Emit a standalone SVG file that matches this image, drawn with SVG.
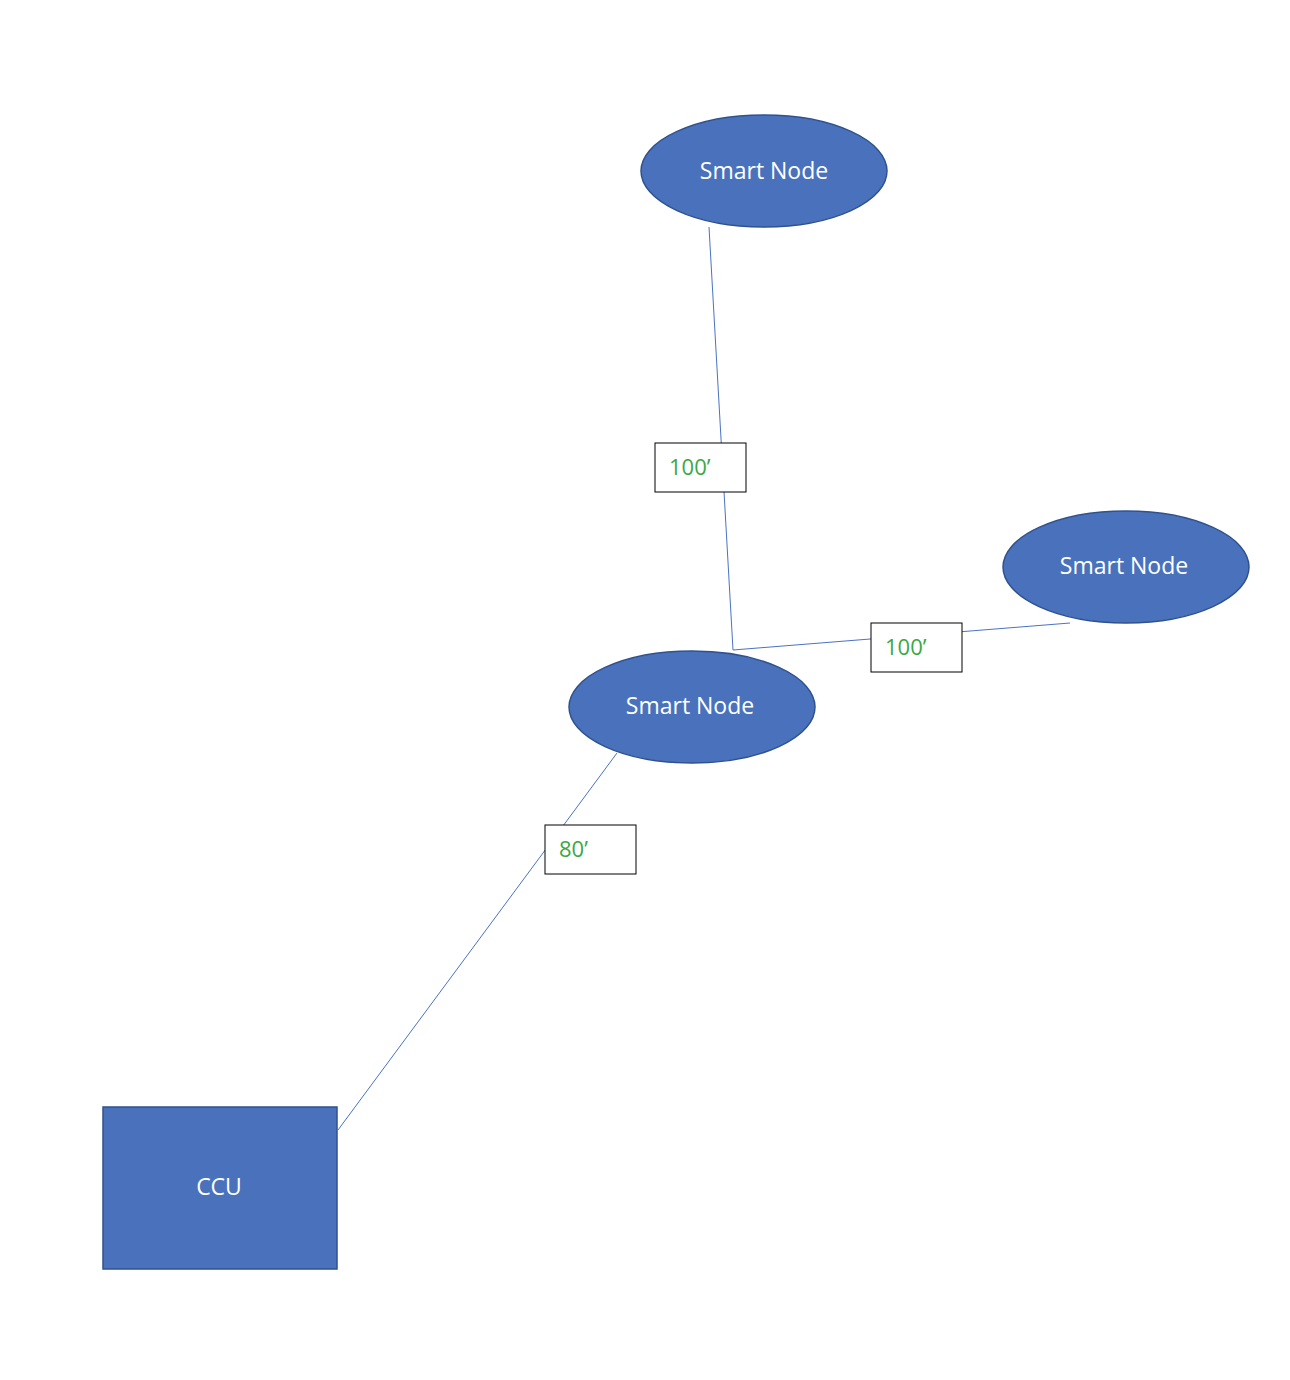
<svg xmlns="http://www.w3.org/2000/svg" width="1290" height="1380" viewBox="0 0 1290 1380">
<style>
.n{fill:#4a72bc;stroke:#2f528f;stroke-width:1.5}
.t{font-family:"Open Sans","Liberation Sans",sans-serif;font-size:23px;fill:#fff;text-anchor:middle}
.l{fill:#fff;stroke:#000;stroke-width:1}
.lt{font-family:"Open Sans","Liberation Sans",sans-serif;font-size:22px;fill:#3aa843}
.c{stroke:#4a72c4;stroke-width:1;fill:none}
</style>
<rect width="1290" height="1380" fill="#fff"/>
<g id="connectors">
<polyline class="c" points="709,227 733,650 1070,623"/>
<line class="c" x1="617" y1="753" x2="338" y2="1130"/>
</g>
<g id="n1"><ellipse class="n" cx="764" cy="171" rx="123" ry="56"/><text class="t" x="764" y="179">Smart Node</text></g>
<g id="n2"><ellipse class="n" cx="1126" cy="567" rx="123" ry="56"/><text class="t" x="1124" y="574">Smart Node</text></g>
<g id="n3"><ellipse class="n" cx="692" cy="707" rx="123" ry="56"/><text class="t" x="690" y="714">Smart Node</text></g>
<g id="ccu"><rect class="n" x="103" y="1107" width="234" height="162"/><text class="t" x="219" y="1195">CCU</text></g>
<g id="l1"><rect class="l" x="655" y="443" width="91" height="49"/><text class="lt" x="669" y="475">100’</text></g>
<g id="l2"><rect class="l" x="871" y="623" width="91" height="49"/><text class="lt" x="885" y="655">100’</text></g>
<g id="l3"><rect class="l" x="545" y="825" width="91" height="49"/><text class="lt" x="559" y="857">80’</text></g>
</svg>
